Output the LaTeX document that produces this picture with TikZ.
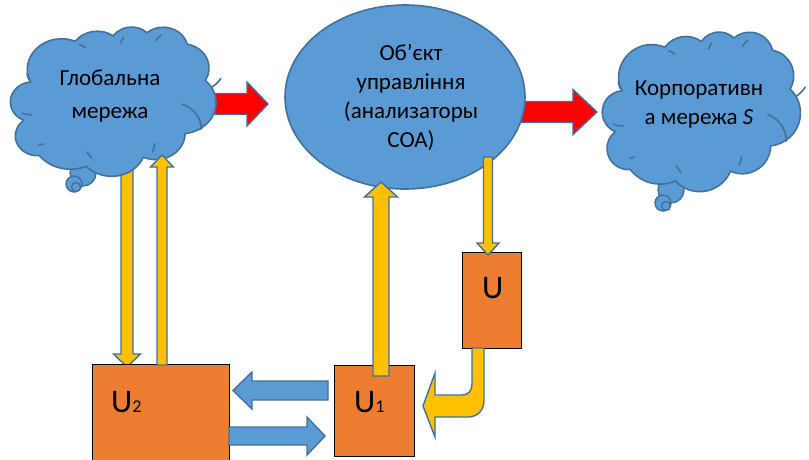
\documentclass[tikz,border=0pt]{standalone}
\usepackage{fontspec}
\setmainfont{Carlito}
\usetikzlibrary{shapes.geometric,calc}
\definecolor{cfill}{HTML}{5B9BD5}
\definecolor{cline}{HTML}{41719C}
\definecolor{obox}{HTML}{ED7D31}
\definecolor{yarr}{HTML}{FFC000}
\definecolor{rarr}{HTML}{FF0000}
\newcommand\blockarrow[6]{%
  \coordinate (ba-h) at ($(#3)!#6!(#2)$);
  \draw[#1] ($(#2)!#4!90:(#3)$) -- ($(ba-h)!#4!90:(#3)$) -- ($(ba-h)!#5!90:(#3)$) -- (#3)
    -- ($(ba-h)!#5!-90:(#3)$) -- ($(ba-h)!#4!-90:(#3)$) -- ($(#2)!#4!-90:(#3)$) -- cycle;
}
\tikzset{
  carc/.style n args={4}{insert path={arc[x radius=#1, y radius=#2, start angle=#3, delta angle=#4]}},
  cloudbody/.style={fill=cfill, draw=cline, line width=1.6pt, line join=round},
  cloudinner/.style={draw=cline, line width=1.6pt, line cap=round},
  bubble/.style={circle, fill=cfill, draw=cline, line width=1.4pt, inner sep=0pt},
  txt/.style={font=\fontsize{23}{29}\selectfont, align=center, inner sep=0pt},
  box/.style={fill=obox, draw=black, line width=0.8pt},
  ulab/.style={font=\fontsize{33}{40}\selectfont, inner sep=0pt},
  redarr/.style={fill=rarr, draw=cline, line width=1.4pt, line join=miter},
  yelarr/.style={fill=yarr, draw=cline, line width=1.4pt, line join=miter},
  bluarr/.style={fill=cfill, draw=cline, line width=1.4pt, line join=miter},
}
\newcommand\usubscript[1]{\fontsize{18}{20}\selectfont #1}
\newcommand\officecloud{%
  \path[cloudbody] (39.00,143.70)
    [carc={67.53}{91.90}{-190.49}{123.78}]
    [carc={53.33}{72.67}{-144.10}{89.95}]
    [carc={43.65}{59.45}{-145.81}{99.72}]
    [carc={48.57}{65.95}{-130.99}{117.24}]
    [carc={53.33}{72.73}{-78.71}{109.03}]
    [carc={67.75}{92.20}{-46.27}{130.27}]
    [carc={57.85}{78.67}{0.63}{114.03}]
    [carc={67.52}{92.15}{22.45}{115.17}]
    [carc={77.20}{105.43}{66.24}{75.71}]
    [carc={43.60}{59.18}{-274.94}{146.74}]
    [carc={43.45}{59.45}{-246.83}{152.52}] -- cycle;
  \path[cloudinner]
    (46.93,261.77) [carc={43.45}{59.45}{86.74}{26.43}]
    (69.28,348.99) [carc={43.60}{59.18}{73.61}{11.45}]
    (164.78,390.90) [carc={67.52}{92.15}{137.62}{14.08}]
    (288.27,347.51) [carc={67.52}{92.15}{6.45}{16.00}]
    (341.29,229.54) [carc={57.85}{78.67}{-70.29}{70.92}]
    (417.98,153.54) [carc={53.33}{72.73}{30.32}{27.75}]
    (290.78,39.52) [carc={48.57}{65.95}{-149.18}{18.20}]
    (221.41,47.20) [carc={43.65}{59.45}{-163.49}{17.69}]
    (140.00,51.92) [carc={67.53}{91.90}{-66.71}{12.32}]
    (41.27,157.89) [carc={67.53}{91.90}{157.65}{11.86}];
}
\begin{document}
\begin{tikzpicture}[x=1pt,y=-1pt]
\useasboundingbox (0,0) rectangle (809,459);
% thought bubbles
\node[bubble, minimum size=26pt] (gb1) at (83,173) {};
\node[bubble, minimum size=16pt] (gb2) at (74,184) {};
\node[bubble, minimum size=9pt] (gb3) at (76,187) {};
\node[bubble, minimum size=26pt] (cb1) at (671,190) {};
\node[bubble, minimum size=16pt] (cb2) at (663,203) {};
\node[bubble, minimum size=9pt] (cb3) at (666,206) {};
% red arrows behind shapes
\coordinate (r1s) at (215,104);
\coordinate (r1e) at (268,104);
\blockarrow{redarr}{r1s}{r1e}{10.5pt}{22pt}{21pt}
\coordinate (r2s) at (515,112);
\coordinate (r2e) at (597,112);
\blockarrow{redarr}{r2s}{r2e}{10.5pt}{22.5pt}{24pt}
% yellow down arrow from global (behind cloud)
\coordinate (y1s) at (127,150);
\coordinate (y1e) at (127,367);
\blockarrow{yelarr}{y1s}{y1e}{6pt}{13.5pt}{13pt}
% clouds
\begin{scope}[shift={(8,27)}, x=0.5093pt, y=-0.3356pt]
  \officecloud
\end{scope}
\node[txt, font=\fontsize{23}{33}\selectfont, anchor=base] (globt) at (110,118) {Глобальна\\мережа};
\begin{scope}[shift={(600,32)}, x=0.4907pt, y=-0.3588pt]
  \officecloud
\end{scope}
\node[txt, anchor=base] (corpt) at (699,124) {Корпоративн\\а мережа \textit{S}};
% ellipse
\node[ellipse, fill=cfill, draw=cline, line width=1.6pt, minimum width=240pt, minimum height=184pt, inner sep=0pt] (obj) at (405,97) {};
\node[txt, anchor=base] (objt) at (411,147) {Об’єкт\\управління\\(анализаторы\\СОА)};
% boxes
\node[box, minimum width=137pt, minimum height=100pt, inner sep=0pt] (u2) at (160.5,414) {};
\node[box, minimum width=80pt, minimum height=91pt, inner sep=0pt] (u1) at (374,410.5) {};
\node[box, minimum width=59pt, minimum height=96pt, inner sep=0pt] (u) at (491.5,300) {};
\node[ulab, anchor=base west] (u2t) at (111,412) {U\usubscript{2}};
\node[ulab, anchor=base west] (u1t) at (354,412) {U\usubscript{1}};
\node[ulab, anchor=base west] (ut) at (482,298) {U};
% yellow arrows
\coordinate (y2s) at (162,365);
\coordinate (y2e) at (162,155);
\blockarrow{yelarr}{y2s}{y2e}{5pt}{11.5pt}{12pt}
\coordinate (y3s) at (381,376);
\coordinate (y3e) at (381,182);
\blockarrow{yelarr}{y3s}{y3e}{8pt}{16.5pt}{15pt}
\coordinate (y4s) at (488,157);
\coordinate (y4e) at (488,255);
\blockarrow{yelarr}{y4s}{y4e}{4.5pt}{11pt}{12pt}
% bent yellow arrow from U to U1
\draw[yelarr] (472,348) -- (472,384) .. controls (472,391) and (468,395) .. (462,395)
  -- (435,395) -- (435,373) -- (423,406) -- (435,437) -- (435,417) -- (468,417)
  .. controls (478,417) and (484,410) .. (484,400) -- (484,348) -- cycle;
% blue arrows
\coordinate (b1s) at (328,390.5);
\coordinate (b1e) at (233,390.5);
\blockarrow{bluarr}{b1s}{b1e}{9.5pt}{18.5pt}{19pt}
\coordinate (b2s) at (229,436);
\coordinate (b2e) at (325,436);
\blockarrow{bluarr}{b2s}{b2e}{9pt}{19pt}{18pt}
\end{tikzpicture}
\end{document}
